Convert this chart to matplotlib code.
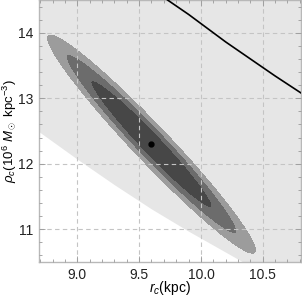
import numpy as np
import matplotlib
matplotlib.use("Agg")
import matplotlib.pyplot as plt
from matplotlib.ticker import MultipleLocator

plt.rcParams['font.family'] = ['Liberation Sans', 'DejaVu Sans']
plt.rcParams['mathtext.fontset'] = 'custom'
plt.rcParams['mathtext.rm'] = 'Liberation Sans'
plt.rcParams['mathtext.it'] = 'Liberation Sans:italic'
plt.rcParams['mathtext.bf'] = 'Liberation Sans:bold'

# ---- data ----
best_r = 9.60
best_rho = 12.30
sigma_r = 0.28
sigma_rho = 0.555
corr = -0.972
chi2_levels = [3.06, 6.07, 9.0]
contour_colors = ['#474747', '#6c6c6c', '#9c9c9c']

# excluded-region boundary (below: white)
bound_r = [8.60, 8.69, 9.0, 9.3, 9.6, 9.9, 10.2, 10.34]
bound_rho = [12.63, 12.49, 12.07, 11.68, 11.31, 10.97, 10.65, 10.50]

# black curve
curve_r = [9.73, 9.9, 10.0, 10.2, 10.4, 10.6, 10.85]
curve_rho = [14.50, 14.28, 14.14, 13.86, 13.60, 13.34, 13.03]

xlim = (8.69, 10.81)
ylim = (10.5, 14.5)
xticks = [9.0, 9.5, 10.0, 10.5]
xticklabels = ['9.0', '9.5', '10.0', '10.5']
yticks = [11, 12, 13, 14]
yticklabels = ['11', '12', '13', '14']

fig = plt.figure(figsize=(3.02, 3.01), dpi=100)
ax = fig.add_axes([0.129, 0.1296, 0.868, 0.8704])
ax.set_facecolor('#e6e6e6')

ax.fill_between(bound_r, ylim[0] - 1, bound_rho, color='white', lw=0, zorder=1)

gr = np.linspace(xlim[0], xlim[1], 600)
gp = np.linspace(ylim[0], ylim[1], 600)
R, P = np.meshgrid(gr, gp)
dr = (R - best_r) / sigma_r
dp = (P - best_rho) / sigma_rho
chi2 = (dr**2 - 2 * corr * dr * dp + dp**2) / (1 - corr**2)
ax.contourf(R, P, chi2, levels=[-1] + chi2_levels, colors=contour_colors, zorder=2)

ax.plot(curve_r, curve_rho, color='black', lw=1.2, zorder=3)
ax.plot([best_r], [best_rho], 'o', color='black', ms=3.5, zorder=4)

ax.set_xlim(*xlim)
ax.set_ylim(*ylim)
ax.set_xticks(xticks)
ax.set_xticklabels(xticklabels)
ax.set_yticks(yticks)
ax.set_yticklabels(yticklabels)
ax.xaxis.set_minor_locator(MultipleLocator(0.1))
ax.yaxis.set_minor_locator(MultipleLocator(0.2))
ax.tick_params(which='both', direction='in', top=True, right=True, color='#9a9a9a',
               labelsize=10, labelcolor='#222222', width=0.6)
ax.tick_params(which='major', length=4, pad=4)
ax.tick_params(which='minor', length=2)
ax.grid(True, which='major', ls=(0, (4, 3)), color='#c4c4c4', lw=0.8, zorder=1.5)
ax.set_axisbelow(False)
for s in ax.spines.values():
    s.set_color('#b8b8b8')
    s.set_linewidth(1.0)

ax.set_xlabel(r'$r_c$(kpc)', fontsize=10)
ax.xaxis.set_label_coords(0.5, -0.065)
ax.set_ylabel(r'$\rho_c$(10$^6$ $M_\odot$ kpc$^{-3}$)', fontsize=9.5)
ax.yaxis.set_label_coords(-0.075, 0.5)

fig.savefig('out.png', dpi=100)
